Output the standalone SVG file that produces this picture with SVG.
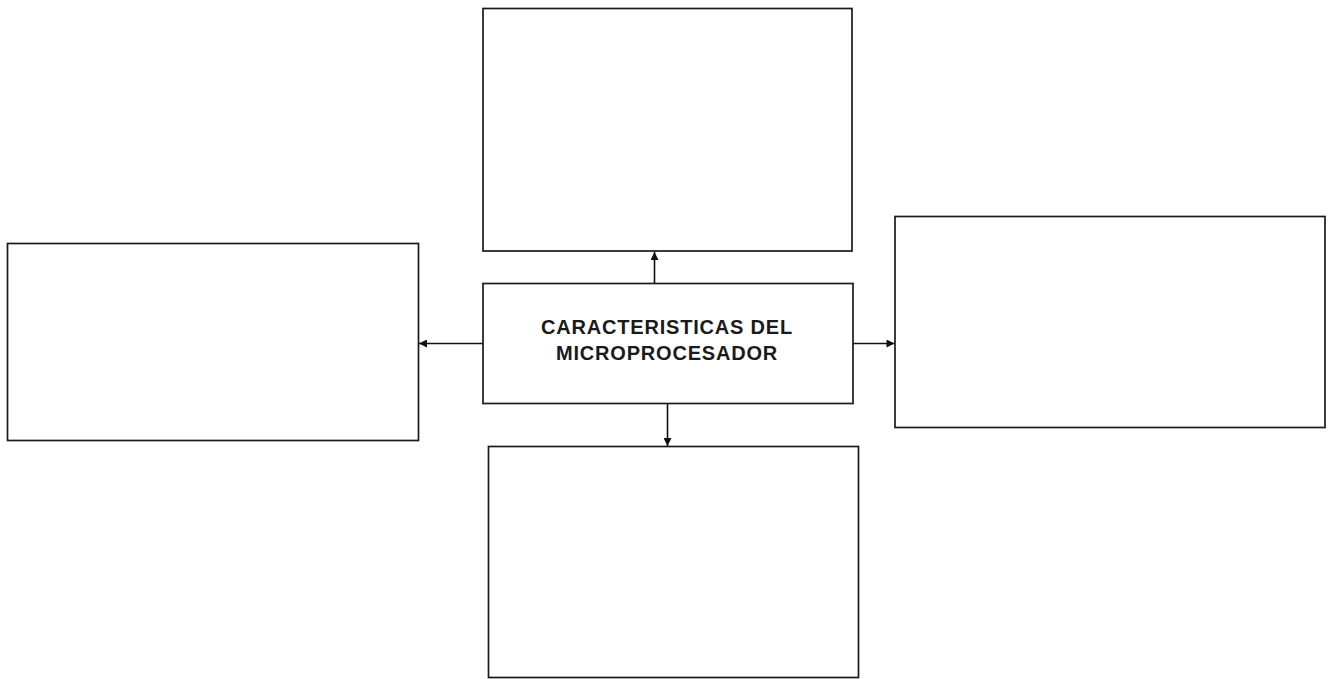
<svg xmlns="http://www.w3.org/2000/svg" width="1335" height="679" viewBox="0 0 1335 679">
<style>
.box{fill:#fff;stroke:#1a1a1a;stroke-width:1.7}
.con{fill:none;stroke:#111;stroke-width:1.6}
.lbl{font-family:"Liberation Sans",Arial,sans-serif;font-weight:bold;font-size:20px;fill:#1a1a1a;text-anchor:middle;letter-spacing:0.8px}
</style>
<defs>
<marker id="arr" viewBox="0 0 10 10" refX="10" refY="5" markerWidth="9" markerHeight="8" orient="auto" markerUnits="userSpaceOnUse">
<path d="M0,0 L10,5 L0,10 Z" fill="#111"/>
</marker>
</defs>
<rect width="1335" height="679" fill="#fff"/>
<g id="top"><rect class="box" x="483" y="8.5" width="369" height="242.5"/></g>
<g id="left"><rect class="box" x="7.5" y="243.5" width="411" height="197"/></g>
<g id="right"><rect class="box" x="895" y="216.5" width="430" height="211"/></g>
<g id="bottom"><rect class="box" x="488.5" y="446.5" width="370" height="231"/></g>
<g id="center"><rect class="box" x="483" y="283.5" width="370" height="120"/>
<text class="lbl" x="667" y="334">CARACTERISTICAS DEL</text>
<text class="lbl" x="667" y="360">MICROPROCESADOR</text></g>
<g id="connectors">
<line class="con" x1="654.5" y1="283" x2="654.5" y2="252" marker-end="url(#arr)"/>
<line class="con" x1="483" y1="343.5" x2="419" y2="343.5" marker-end="url(#arr)"/>
<line class="con" x1="853" y1="343.5" x2="894.5" y2="343.5" marker-end="url(#arr)"/>
<line class="con" x1="667.5" y1="404" x2="667.5" y2="446" marker-end="url(#arr)"/>
</g>
</svg>
